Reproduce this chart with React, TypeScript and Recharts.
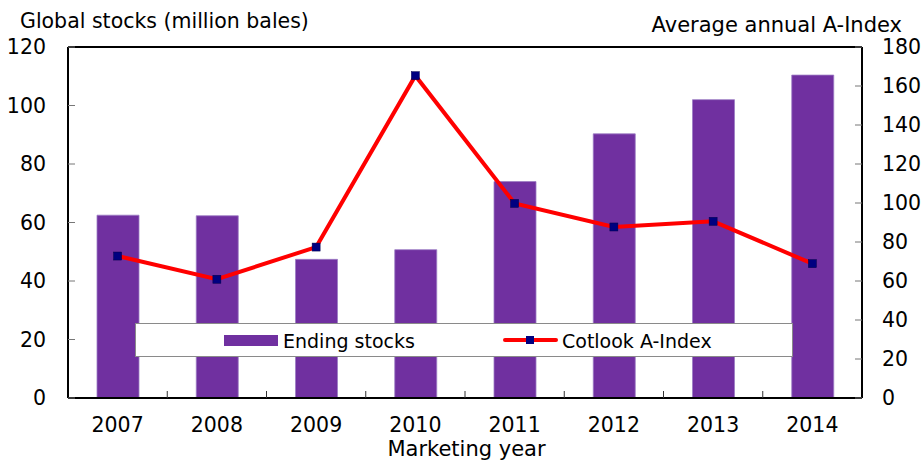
import React from 'react';
import { ComposedChart, Bar, Line, XAxis, YAxis, ReferenceLine } from 'recharts';

// values
const years = ['2007', '2008', '2009', '2010', '2011', '2012', '2013', '2014'];
const endingStocks = [62.5, 62.3, 47.4, 50.7, 74.0, 90.3, 102.0, 110.4];
const aIndex = [72.8, 60.9, 77.4, 165.3, 99.8, 87.7, 90.6, 68.9];
const leftTicks = [0, 20, 40, 60, 80, 100, 120];
const rightTicks = [0, 20, 40, 60, 80, 100, 120, 140, 160, 180];

const data = years.map((year, i) => ({ year, stocks: endingStocks[i], index: aIndex[i] }));

const W = 923;
const H = 461;
const PLOT_LEFT = 68;
const PLOT_RIGHT = 862;
const PLOT_TOP = 47;
const PLOT_BOTTOM = 398;
const BAND = (PLOT_RIGHT - PLOT_LEFT) / years.length;
const FONT = '"DejaVu Sans", Arial, sans-serif';

const LeftTick = ({ x, y, payload }: any) => (
  <g>
    <line x1={x} x2={x + 7} y1={y} y2={y} stroke="#777" strokeWidth={1} />
    <text x={x - 22} y={y} dy="0.36em" textAnchor="end" fontSize={20.5} fontFamily={FONT} fill="#000">
      {payload.value}
    </text>
  </g>
);

const RightTick = ({ x, y, payload }: any) => (
  <g>
    <line x1={x - 7} x2={x} y1={y} y2={y} stroke="#777" strokeWidth={1} />
    <text x={x + 20} y={y} dy="0.36em" textAnchor="start" fontSize={20.5} fontFamily={FONT} fill="#000">
      {payload.value}
    </text>
  </g>
);

const BottomTick = ({ x, y, payload, index }: any) => (
  <g>
    {index < years.length - 1 && (
      <line x1={x + BAND / 2} x2={x + BAND / 2} y1={y} y2={y - 7} stroke="#333" strokeWidth={1} />
    )}
    <text x={x} y={y + 34} textAnchor="middle" fontSize={20.5} fontFamily={FONT} fill="#000">
      {payload.value}
    </text>
  </g>
);

const SquareDot = ({ cx, cy }: any) => (
  <rect x={cx - 4} y={cy - 4} width={8} height={8} fill="#000080" stroke="#00004a" strokeWidth={0.5} />
);

const App: React.FC = () => {
  return (
    <div style={{ position: 'relative', width: W, height: H, background: '#fff' }}>
      <style>{`body{margin:0}`}</style>
      <ComposedChart
        width={W}
        height={H}
        data={data}
        margin={{ top: PLOT_TOP, right: 0, bottom: 0, left: 0 }}
      >
        <XAxis
          dataKey="year"
          height={H - PLOT_BOTTOM}
          tickSize={0}
          tickMargin={0}
          tick={<BottomTick />}
          axisLine={{ stroke: '#000', strokeWidth: 2 }}
          tickLine={false}
          interval={0}
        />
        <YAxis
          yAxisId="left"
          orientation="left"
          width={PLOT_LEFT}
          domain={[0, 120]}
          ticks={leftTicks}
          tickSize={0}
          tickMargin={0}
          tick={<LeftTick />}
          axisLine={{ stroke: '#000', strokeWidth: 2 }}
          tickLine={false}
        />
        <YAxis
          yAxisId="right"
          orientation="right"
          width={W - PLOT_RIGHT}
          domain={[0, 180]}
          ticks={rightTicks}
          tickSize={0}
          tickMargin={0}
          tick={<RightTick />}
          axisLine={{ stroke: '#000', strokeWidth: 2 }}
          tickLine={false}
        />
        <ReferenceLine yAxisId="left" y={120} stroke="#000" strokeWidth={2} />
        <Bar
          yAxisId="left"
          dataKey="stocks"
          name="Ending stocks"
          barSize={42}
          fill="#7030A0"
          stroke="#9c7cc4"
          strokeWidth={0.8}
          isAnimationActive={false}
        />
        <Line
          yAxisId="right"
          type="linear"
          dataKey="index"
          name="Cotlook A-Index"
          stroke="#FF0000"
          strokeWidth={4}
          dot={<SquareDot />}
          activeDot={false}
          isAnimationActive={false}
        />
      </ComposedChart>

      <svg width={W} height={H} style={{ position: 'absolute', left: 0, top: 0, pointerEvents: 'none' }}>
        <text x={20} y={28} fontSize={20.5} fontFamily={FONT} fill="#000">
          Global stocks (million bales)
        </text>
        <text x={902} y={32} textAnchor="end" fontSize={21} fontFamily={FONT} fill="#000">
          Average annual A-Index
        </text>
        <text x={466.5} y={456} textAnchor="middle" fontSize={21} fontFamily={FONT} fill="#000">
          Marketing year
        </text>
      </svg>

      <div
        style={{
          position: 'absolute',
          left: 135,
          top: 323,
          width: 658,
          height: 34,
          boxSizing: 'border-box',
          border: '1px solid #8a8a8a',
          background: '#fff',
          fontFamily: FONT,
          fontSize: 19,
          color: '#000',
        }}
      >
        <div style={{ position: 'absolute', left: 88, top: 11, width: 54, height: 11, background: '#7030A0' }} />
        <span style={{ position: 'absolute', left: 147, top: 6, lineHeight: '22px' }}>Ending stocks</span>
        <div style={{ position: 'absolute', left: 367, top: 14, width: 55, height: 4, background: '#FF0000', borderRadius: 2 }} />
        <div style={{ position: 'absolute', left: 390, top: 12, width: 8, height: 8, background: '#000080' }} />
        <span style={{ position: 'absolute', left: 426, top: 6, lineHeight: '22px' }}>Cotlook A-Index</span>
      </div>
    </div>
  );
};

export default App;
